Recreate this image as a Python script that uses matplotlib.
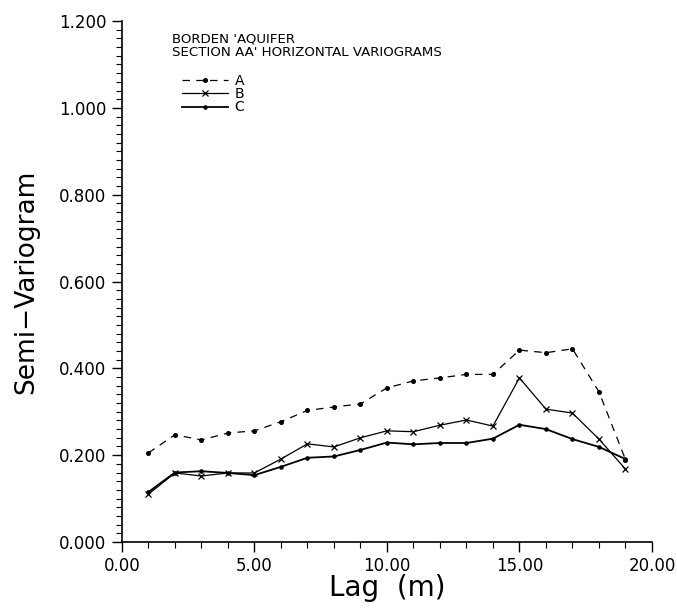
import numpy as np
import matplotlib.pyplot as plt
from matplotlib.ticker import MultipleLocator, FormatStrFormatter

# lag distances (m)
lag = [1, 2, 3, 4, 5, 6, 7, 8, 9, 10, 11, 12, 13, 14, 15, 16, 17, 18, 19]

# semi-variogram values
gamma_a = [0.205, 0.247, 0.235, 0.251, 0.256, 0.277, 0.303, 0.311, 0.318, 0.355,
           0.371, 0.378, 0.386, 0.386, 0.442, 0.436, 0.445, 0.346, 0.190]
gamma_b = [0.110, 0.159, 0.152, 0.159, 0.159, 0.191, 0.226, 0.219, 0.240, 0.256,
           0.254, 0.269, 0.281, 0.267, 0.378, 0.306, 0.297, 0.237, 0.168]
gamma_c = [0.115, 0.160, 0.163, 0.159, 0.154, 0.173, 0.194, 0.197, 0.212, 0.229,
           0.225, 0.228, 0.228, 0.238, 0.270, 0.260, 0.237, 0.219, 0.191]

title_lines = ["BORDEN 'AQUIFER", "SECTION AA' HORIZONTAL VARIOGRAMS"]
series_names = ["A", "B", "C"]

fig = plt.figure(figsize=(6.77, 6.10), dpi=100)
ax = fig.add_axes([0.180, 0.1115, 0.783, 0.854])

ax.plot(lag, gamma_a, color="black", lw=0.9, ls=(0, (6, 5)),
        marker="o", ms=2.6, label=series_names[0])
ax.plot(lag, gamma_b, color="black", lw=0.9, marker="x", ms=4.5,
        mew=0.9, label=series_names[1])
ax.plot(lag, gamma_c, color="black", lw=1.3, marker="o", ms=2.3,
        label=series_names[2])

ax.set_xlim(0, 20)
ax.set_ylim(0, 1.2)

ax.xaxis.set_major_locator(MultipleLocator(5))
ax.xaxis.set_minor_locator(MultipleLocator(1))
ax.yaxis.set_major_locator(MultipleLocator(0.2))
ax.yaxis.set_minor_locator(MultipleLocator(0.02))
ax.xaxis.set_major_formatter(FormatStrFormatter("%.2f"))
ax.yaxis.set_major_formatter(FormatStrFormatter("%.3f"))

for s in ["top", "right"]:
    ax.spines[s].set_visible(False)
ax.spines["left"].set_linewidth(1.2)
ax.spines["bottom"].set_linewidth(1.2)

ax.tick_params(which="major", direction="out", length=7, width=1.0,
               labelsize=12, pad=4)
ax.tick_params(which="minor", direction="out", length=4, width=0.8)

ax.set_xlabel("Lag  (m)", fontsize=20, labelpad=-1)
ax.set_ylabel("Semi\u2212Variogram", fontsize=19, labelpad=14)

ax.text(0.094, 0.978, "\n".join(title_lines), transform=ax.transAxes,
        fontsize=9.6, va="top", ha="left", linespacing=1.0)

leg = ax.legend(loc="upper left", bbox_to_anchor=(0.100, 0.912),
                frameon=False, fontsize=10, handlelength=3.3,
                labelspacing=-0.05, handletextpad=0.5, borderpad=0)

fig.savefig("out.png", dpi=100)
